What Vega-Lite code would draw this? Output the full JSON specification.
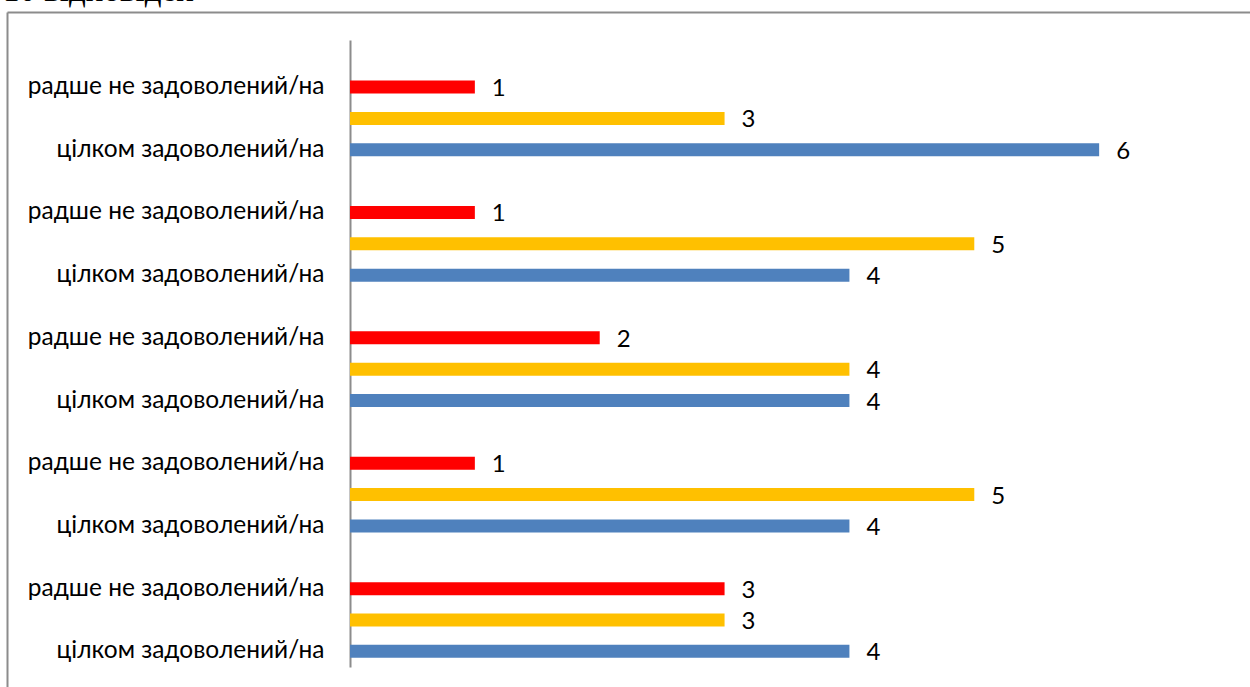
{
  "$schema": "https://vega.github.io/schema/vega-lite/v6.json",
  "autosize": {"type": "none"},
  "width": 1243,
  "height": 675,
  "padding": {"left": 7, "top": 12, "right": 0, "bottom": 0},
  "background": "white",
  "title": {
    "text": "10 відповідей",
    "anchor": "start",
    "frame": "group",
    "font": "Liberation Serif",
    "fontSize": 33,
    "fontWeight": 400,
    "color": "black",
    "baseline": "alphabetic",
    "offset": 0,
    "dy": 22,
    "dx": -4
  },
  "config": {
    "view": {"stroke": null},
    "axis": {"grid": false},
    "title": {"fontWeight": 400}
  },
  "data": {
    "values": [
      {"row": "1a", "series": "a", "value": 1},
      {"row": "1b", "series": "b", "value": 3},
      {"row": "1c", "series": "c", "value": 6},
      {"row": "2a", "series": "a", "value": 1},
      {"row": "2b", "series": "b", "value": 5},
      {"row": "2c", "series": "c", "value": 4},
      {"row": "3a", "series": "a", "value": 2},
      {"row": "3b", "series": "b", "value": 4},
      {"row": "3c", "series": "c", "value": 4},
      {"row": "4a", "series": "a", "value": 1},
      {"row": "4b", "series": "b", "value": 5},
      {"row": "4c", "series": "c", "value": 4},
      {"row": "5a", "series": "a", "value": 3},
      {"row": "5b", "series": "b", "value": 3},
      {"row": "5c", "series": "c", "value": 4}
    ]
  },
  "layer": [
    {
      "layer": [
        {
          "mark": {"type": "bar", "size": 13},
          "encoding": {
            "color": {
              "field": "series",
              "type": "nominal",
              "scale": {"domain": ["a", "b", "c"], "range": ["#ff0000", "#ffc000", "#4f81bd"]},
              "legend": null
            }
          }
        },
        {
          "mark": {"type": "text", "align": "left", "baseline": "middle", "dx": 17, "dy": 2, "font": "Lato", "fontSize": 24, "color": "black"},
          "encoding": {"text": {"field": "value", "type": "quantitative"}}
        }
      ],
      "encoding": {
        "y": {
          "field": "row",
          "type": "nominal",
          "scale": {
            "domain": ["1_", "1a", "1b", "1c", "2_", "2a", "2b", "2c", "3_", "3a", "3b", "3c", "4_", "4a", "4b", "4c", "5_", "5a", "5b", "5c"],
            "range": [28, 655],
            "paddingInner": 0,
            "paddingOuter": 0
          },
          "axis": {
            "title": null,
            "orient": "left",
            "offset": -343,
            "ticks": false,
            "domainColor": "#8c8c8c",
            "domainWidth": 2,
            "labelPadding": 26,
            "labelLimit": 0,
            "labelFont": "Lato",
            "labelFontSize": 24.5,
            "labelColor": "black",
            "labelExpr": "slice(datum.value, -1) == 'a' ? 'радше не задоволений/на' : (slice(datum.value, -1) == 'c' ? 'цілком задоволений/на' : '')"
          }
        },
        "x": {
          "field": "value",
          "type": "quantitative",
          "scale": {"domain": [0, 7], "range": [343, 1217], "nice": false, "zero": true},
          "axis": null
        }
      }
    },
    {
      "mark": {"type": "point", "opacity": 0, "clip": true},
      "encoding": {
        "x": {
          "field": "value",
          "type": "quantitative",
          "scale": {"domain": [0, 1], "range": [0, 1243], "nice": false, "zero": false},
          "axis": {"orient": "top", "title": null, "labels": false, "ticks": false, "domain": true, "domainColor": "#8c8c8c", "domainWidth": 2, "offset": 0}
        },
        "y": {
          "field": "value",
          "type": "quantitative",
          "scale": {"domain": [0, 1], "range": [0, 675], "nice": false, "zero": false},
          "axis": {"orient": "left", "title": null, "labels": false, "ticks": false, "domain": true, "domainColor": "#8c8c8c", "domainWidth": 2, "offset": 0}
        }
      }
    }
  ],
  "resolve": {
    "scale": {"x": "independent", "y": "independent"},
    "axis": {"x": "independent", "y": "independent"}
  }
}
